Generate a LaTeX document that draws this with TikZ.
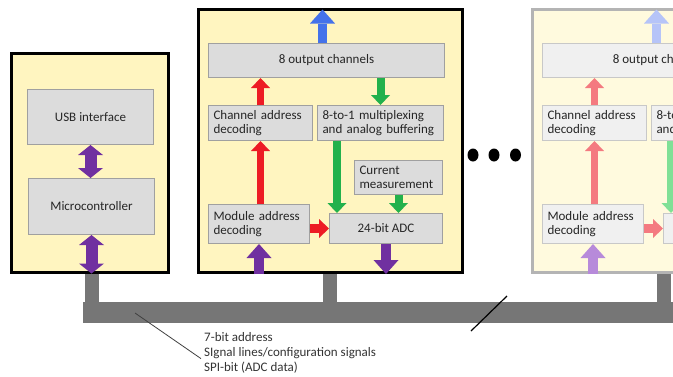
\documentclass[tikz,border=0pt]{standalone}
\usepackage{fontspec}
\setmainfont{Carlito}
\usetikzlibrary{arrows.meta}

\definecolor{boarda}{RGB}{255,245,192}
\definecolor{boardb}{RGB}{255,250,222}
\definecolor{edgea}{RGB}{0,0,0}
\definecolor{edgeb}{RGB}{180,180,180}
\definecolor{boxa}{RGB}{220,220,220}
\definecolor{boxb}{RGB}{240,240,240}
\definecolor{linea}{RGB}{160,160,160}
\definecolor{lineb}{RGB}{200,200,200}
\definecolor{reda}{RGB}{237,28,36}
\definecolor{redb}{RGB}{244,122,128}
\definecolor{greena}{RGB}{34,177,76}
\definecolor{greenb}{RGB}{128,224,150}
\definecolor{bluea}{RGB}{68,114,234}
\definecolor{blueb}{RGB}{182,196,248}
\definecolor{purplea}{RGB}{112,48,160}
\definecolor{purpleb}{RGB}{183,138,218}
\definecolor{busgray}{RGB}{118,118,118}

\tikzset{
  board/.style={draw=edge#1, fill=board#1, line width=3pt, anchor=north west, inner sep=0pt},
  blockbox/.style={draw=line#1, fill=box#1, line width=1pt, anchor=north west, inner sep=0pt,
    text=black!85, font=\fontsize{13}{14.5}\selectfont},
  lbox/.style={inner xsep=5pt, align=left},
  sarrow/.style={line width=7pt, -{Triangle[length=10pt,width=19pt,line width=0pt]}},
  barrow/.style={line width=10pt, -{Triangle[length=14pt,width=25pt,line width=0pt]}},
  darrow/.style={line width=12pt, {Triangle[length=10pt,width=25pt,line width=0pt]}-{Triangle[length=10pt,width=25pt,line width=0pt]}},
  bus/.style={draw=busgray}
}

\begin{document}
\begin{tikzpicture}[line join=miter,x=1pt,y=-1pt]
\useasboundingbox (0,0) rectangle (673,376);
\clip (0,0) rectangle (673,376);

% host board
\node[board=a, minimum width=157pt, minimum height=219pt] (host) at (9.5,51.5) {};
\node[blockbox=a, minimum width=126pt, minimum height=55pt] (usb) at (27,89) {USB interface};
\node[blockbox=a, minimum width=126pt, minimum height=56pt] (mcu) at (28,178) {Microcontroller};
\draw[darrow, purplea] (usb.south) -- (mcu.north -| usb.south);
\draw[darrow, purplea] (mcu.south) -- (mcu.south |- host.south);

% modules, the second one faded
\foreach \n/\s in {a/0,b/334}
{
\begin{scope}[xshift=\s pt]
\node[board=\n, minimum width=264.5pt, minimum height=263.5pt] (board\n) at (196.5,7.5) {};
\node[blockbox=\n, minimum width=236pt, minimum height=34pt] (out\n) at (208,43) {8 output channels};
\node[blockbox=\n, lbox, text width=94pt, minimum height=35pt] (chan\n) at (208,105) {Channel address\\decoding};
\node[blockbox=\n, lbox, text width=116pt, minimum height=35pt] (mux\n) at (317,105) {8-to-1 multiplexing\\and analog buffering};
\node[blockbox=\n, lbox, text width=78pt, minimum height=34pt] (cur\n) at (354,160) {Current\\measurement};
\node[blockbox=\n, minimum width=113pt, minimum height=30pt] (adc\n) at (329,213) {24-bit ADC};
\node[blockbox=\n, lbox, text width=91pt, minimum height=39pt] (mod\n) at (208,204) {Module address\\decoding};
\draw[barrow, line width=9pt, blue\n] ([xshift=-4pt]out\n.north) -- ([xshift=-4pt,yshift=-2pt]out\n.north |- board\n.north);
\draw[sarrow, red\n] (chan\n.north) -- (chan\n.north |- out\n.south);
\draw[sarrow, red\n] (chan\n.south |- mod\n.north) -- (chan\n.south);
\draw[sarrow, line width=9pt, red\n] (mod\n.east |- adc\n.west) -- (adc\n.west);
\draw[sarrow, line width=8pt, green\n] (mux\n.north |- out\n.south) -- (mux\n.north);
\draw[sarrow, line width=8pt, green\n] ([xshift=8pt]adc\n.north west |- mux\n.south) -- ([xshift=8pt]adc\n.north west);
\draw[sarrow, line width=8pt, green\n] (cur\n.south) -- (cur\n.south |- adc\n.north);
\draw[barrow, purple\n] (mod\n.south |- board\n.south) -- (mod\n.south);
\draw[barrow, purple\n] (adc\n.south) -- (adc\n.south |- board\n.south);
\end{scope}
}

% dots
\foreach \x in {473,494,515.5}
{
\fill (\x,155) ellipse [x radius=5.5pt, y radius=6.5pt];
}

% bus
\coordinate (busL) at (83,312.5);
\coordinate (busR) at (690,312.5);
\draw[bus, line width=21pt] (busL) -- (busR);
\draw[bus, line width=14pt] ([xshift=2.5pt]host.south) -- ([xshift=2.5pt]host.south |- busL);
\draw[bus, line width=14pt] (boarda.south) -- (boarda.south |- busL);
\draw[bus, line width=14pt] (boardb.south) -- (boardb.south |- busL);

\node[anchor=north west, align=left, inner sep=0pt, text=black!80, font=\fontsize{13}{15}\selectfont] (lbl) at (204,332)
  {7-bit address\\SIgnal lines/configuration signals\\SPI-bit (ADC data)};
\coordinate (busmark) at (135,313);
\draw[black!75, line width=0.8pt] (busmark) -- ([xshift=-3pt,yshift=-6pt]lbl.west);
\coordinate (buscut) at (489,313.5);
\draw[black, line width=1.2pt] ([shift={(-18pt,-17.5pt)}]buscut) -- ([shift={(18pt,17.5pt)}]buscut);
\end{tikzpicture}
\end{document}
